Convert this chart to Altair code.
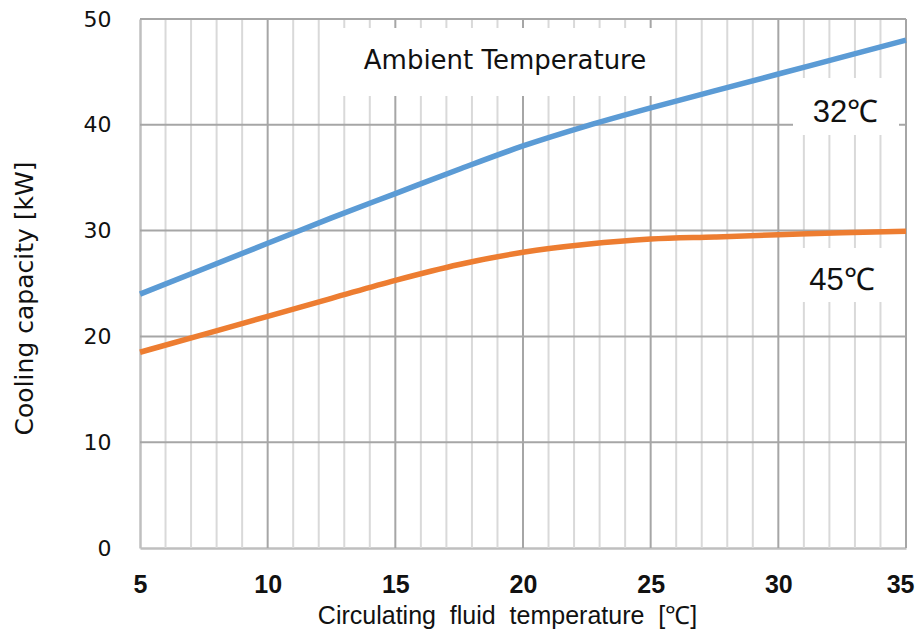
import altair as alt
import pandas as pd

# ---- data ----
fluid_temp = [5, 7.5, 10, 12.5, 15, 17.5, 20, 22.5, 25, 27.5, 30, 32.5, 35]
cap_32 = [24.0, 26.4, 28.8, 31.2, 33.5, 35.8, 38.0, 39.9, 41.6, 43.2, 44.8, 46.4, 48.0]
cap_45 = [18.5, 20.2, 21.9, 23.6, 25.3, 26.8, 27.95, 28.7, 29.2, 29.4, 29.6, 29.8, 29.95]
series_names = ["32℃", "45℃"]
series_colors = ["#5b9bd5", "#ed7d31"]
x_label_values = [5, 10, 15, 20, 25, 30, 35]
x_minor_grid = [t for t in range(6, 35) if t % 5 != 0]
x_major_grid = [10, 15, 20, 25, 30, 35]
y_tick_values = [0, 10, 20, 30, 40, 50]
y_grid = [10, 20, 30, 40, 50]

rows = []
for name, vals in zip(series_names, [cap_32, cap_45]):
    for t, v in zip(fluid_temp, vals):
        rows.append({"temp": t, "cap": v, "series": name})
df = pd.DataFrame(rows)

W, H = 766, 529
xscale = alt.Scale(domain=[5, 35], nice=False, zero=False)
yscale = alt.Scale(domain=[0, 50], nice=False)

x_axis = alt.Axis(
    values=x_label_values,
    labelAlign={"condition": {"test": "datum.value === 35", "value": "right"}, "value": "center"},
    labelOffset={"condition": {"test": "datum.value === 35", "value": 8}, "value": 0},
    ticks=False,
    grid=False,
    labelOverlap=False,
    domainColor="#bfbfbf",
    domainWidth=2.5,
    labelFont="Liberation Sans",
    labelFontWeight="bold",
    labelFontSize=25,
    labelColor="#111111",
    labelPadding=24,
    labelFlush=False,
    title="Circulating \u00a0fluid \u00a0temperature \u00a0[℃]",
    titleFont="Liberation Sans",
    titleFontSize=25,
    titleFontWeight="normal",
    titleColor="#111111",
    titlePadding=6,
    titleX=367,
)
y_axis = alt.Axis(
    values=y_tick_values,
    ticks=False,
    grid=False,
    labelOverlap=False,
    domainColor="#bfbfbf",
    domainWidth=2.5,
    labelFont="DejaVu Sans",
    labelFontSize=22,
    labelColor="#111111",
    labelPadding=29,
    title="Cooling capacity [kW]",
    titleFont="DejaVu Sans",
    titleFontSize=25,
    titleFontWeight="normal",
    titleColor="#111111",
    titlePadding=46,
    titleY=279,
)

base_axes = alt.Chart(df).mark_line(opacity=0).encode(
    x=alt.X("temp:Q", scale=xscale, axis=x_axis),
    y=alt.Y("cap:Q", scale=yscale, axis=y_axis),
)

minor_rules = alt.Chart(pd.DataFrame({"temp": x_minor_grid})).mark_rule(
    color="#d9d9d9", strokeWidth=2
).encode(x=alt.X("temp:Q", scale=xscale))
major_rules = alt.Chart(pd.DataFrame({"temp": x_major_grid})).mark_rule(
    color="#a6a6a6", strokeWidth=2
).encode(x=alt.X("temp:Q", scale=xscale))
h_rules = alt.Chart(pd.DataFrame({"cap": y_grid})).mark_rule(
    color="#a6a6a6", strokeWidth=2
).encode(y=alt.Y("cap:Q", scale=yscale))

one = alt.Data(values=[{}])

def box(x1, x2, y1, y2):
    return alt.Chart(one).mark_rect(color="white").encode(
        x=alt.value(x1), x2=alt.value(x2), y=alt.value(y1), y2=alt.value(y2)
    )

boxes = box(203, 525, 9, 77) + box(653, 759, 59, 116) + box(653, 759, 229, 283)

lines = alt.Chart(df).mark_line(strokeWidth=5.5, interpolate="monotone").encode(
    x=alt.X("temp:Q", scale=xscale),
    y=alt.Y("cap:Q", scale=yscale),
    color=alt.Color("series:N", scale=alt.Scale(domain=series_names, range=series_colors), legend=None),
)

def label(txt, x, y, font, size):
    return alt.Chart(one).mark_text(
        text=txt, font=font, fontSize=size, align="center", baseline="alphabetic", color="#111111"
    ).encode(x=alt.value(x), y=alt.value(y))

labels = (
    label("Ambient Temperature", 365, 50, "DejaVu Sans", 26)
    + label("32℃", 705.5, 103, "Liberation Sans", 31)
    + label("45℃", 702, 271, "Liberation Sans", 31)
)

chart = alt.layer(base_axes, minor_rules, major_rules, h_rules, boxes, lines, labels).properties(
    width=W,
    height=H,
    autosize="none",
    padding={"left": 132, "top": 11, "right": 10, "bottom": 82},
).configure_view(stroke=None)

chart.save("out.html", embed_options={"renderer": "svg", "actions": False})
